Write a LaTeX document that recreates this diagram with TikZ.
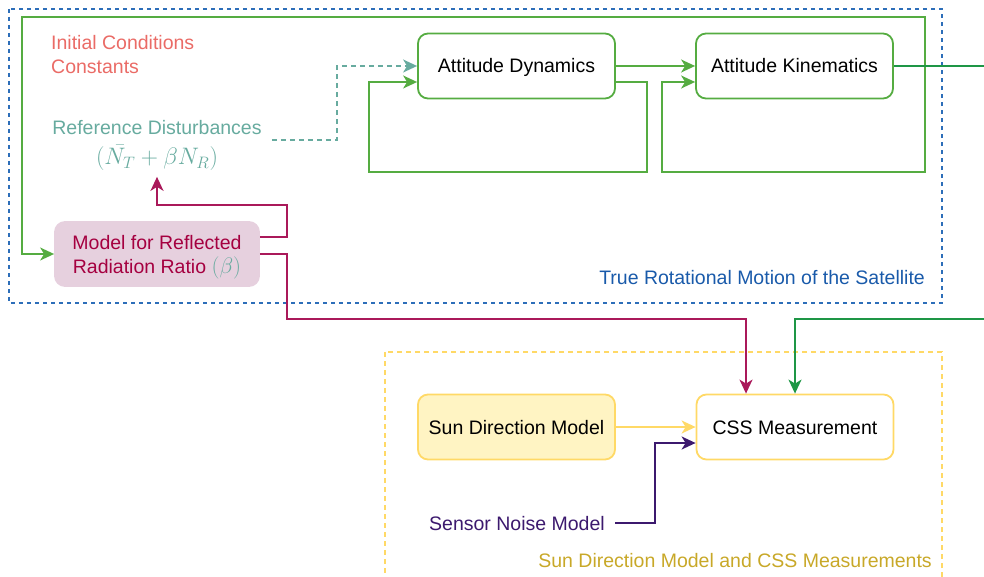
\documentclass[tikz,border=0pt]{standalone}
\usepackage{fontspec}
\setmainfont{Liberation Sans}
\usetikzlibrary{arrows.meta,calc}
\definecolor{bluebox}{RGB}{45,110,185}
\definecolor{bluetext}{RGB}{25,90,170}
\definecolor{grn}{RGB}{85,172,65}
\definecolor{grnD}{RGB}{30,150,70}
\definecolor{refteal}{RGB}{103,171,159}
\definecolor{initred}{RGB}{234,107,102}
\definecolor{mag}{RGB}{165,0,64}
\definecolor{magline}{RGB}{170,25,90}
\definecolor{magfill}{RGB}{230,208,222}
\definecolor{purp}{RGB}{60,25,110}
\definecolor{ylw}{RGB}{255,217,102}
\definecolor{ylwfill}{RGB}{255,244,195}
\definecolor{ylwtext}{RGB}{200,168,40}
\tikzset{
  blockbox/.style={draw, rounded corners=10pt, line width=1.8pt, minimum width=197pt, minimum height=65pt, inner sep=0pt, align=center, text height=14pt, text depth=0pt},
  twoline/.style={text height=38pt, text depth=0pt},
  conn/.style={line width=1.8pt},
  lbl/.style={inner sep=0pt, text height=14pt, text depth=0pt}
}
\begin{document}
\begin{tikzpicture}[x=1pt,y=-1pt, font=\fontsize{19.5}{24}\selectfont, >={Stealth[length=14pt,width=13pt,inset=4pt]}]
\useasboundingbox (0,0) rectangle (984,577);
\clip (0,0) rectangle (984,577);
% containers
\draw[bluebox, line width=2pt, dash pattern=on 4pt off 4pt] (9,9) rectangle (942,303);
\draw[ylw, line width=1.6pt, dash pattern=on 5pt off 4pt] (385,352) rectangle (942,600);
% nodes
\node[blockbox, draw=grn] (dyn) at (516.5,66) {Attitude Dynamics};
\node[blockbox, draw=grn] (kin) at (794.5,66) {Attitude Kinematics};
\node[blockbox, twoline, draw=magfill, fill=magfill, minimum width=204pt, minimum height=64pt, text=mag] (model) at (157,254) {Model for Reflected\\Radiation Ratio \textcolor{refteal}{\scalebox{1.08}{$(\beta)$}}};
\node[blockbox, draw=ylw, fill=ylwfill] (sun) at (516.5,427) {Sun Direction Model};
\node[blockbox, draw=ylw, fill=white] (css) at (795,427) {CSS Measurement};
\node[lbl, twoline, text=initred, align=left, anchor=west] (init) at (51,55) {Initial Conditions\\Constants};
\node[lbl, text=refteal] (refA) at (157,128) {Reference Disturbances};
\node[inner sep=0pt, text=refteal] (refB) at (157,158) {\scalebox{1.15}{$(\bar{N_T}+\beta N_R)$}};
\node[lbl, text=purp] (noise) at (517,523) {Sensor Noise Model};
\node[lbl, text=bluetext, anchor=east] (lblA) at (925,277) {True Rotational Motion of the Satellite};
\node[lbl, text=ylwtext, anchor=east] (lblB) at (932,560) {Sun Direction Model and CSS Measurements};
\coordinate (j) at (925,66);
% green connectors
\draw[conn, grn, ->] (dyn.east) -- (kin.west);
\draw[conn, grn, ->] ($(dyn.east)+(0,16)$) -| (647,172) -| ($(dyn.west)+(-48,16)$) -- ($(dyn.west)+(0,16)$);
\draw[conn, grn, ->] (j) -- (925,172) -| ($(kin.west)+(-33,16)$) -- ($(kin.west)+(0,16)$);
\draw[conn, grn, ->] (j) |- (22,17) |- (model.west);
\draw[conn, grnD, ->] (kin.east) -- (1000,66) -- (1000,319) -| (css.north);
% teal dashed
\draw[conn, refteal, dash pattern=on 5pt off 4pt, ->] ($(refA.east)+(10,12)$) -| (337,66) -- (dyn.west);
% magenta
\draw[conn, magline, ->] ($(model.east)+(0,-17)$) -| (287,205) -| ($(refB.south)+(0,6)$);
\draw[conn, magline, ->] (model.east) -| (287,319) -| ($(css.north)+(-49,0)$);
% yellow and purple
\draw[conn, ylw, ->] (sun.east) -- (css.west);
\draw[conn, purp, ->] ($(noise.east)+(10,0)$) -| ($(css.west)+(-41,16)$) -- ($(css.west)+(0,16)$);
\end{tikzpicture}
\end{document}
